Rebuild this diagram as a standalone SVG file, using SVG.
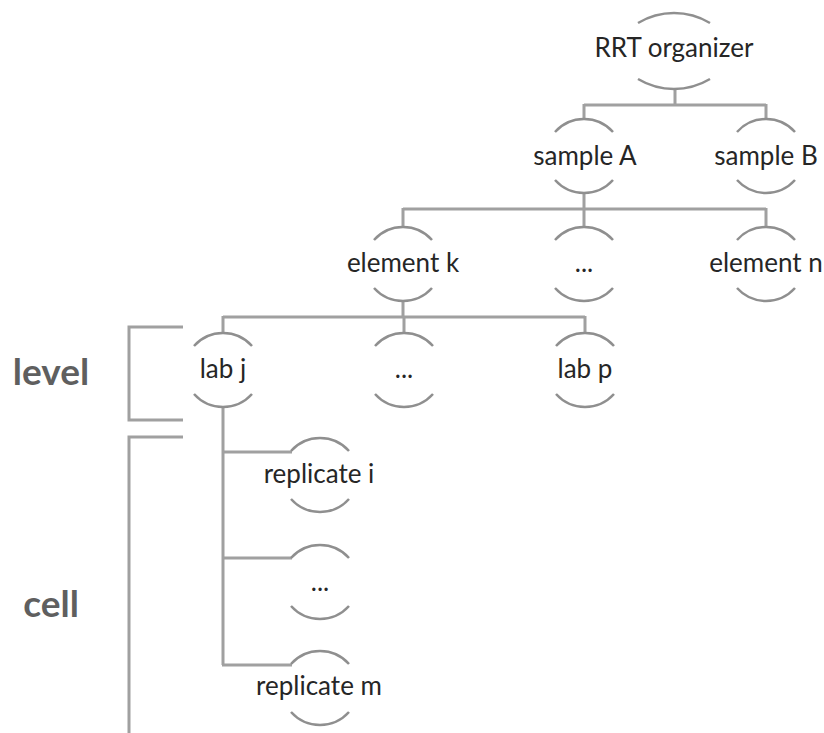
<svg xmlns="http://www.w3.org/2000/svg" width="824" height="733" viewBox="0 0 824 733">
  <style>
    .bg { fill: #ffffff; }
    .link { fill: none; stroke: #a0a0a0; stroke-width: 3; }
    .arc { fill: none; stroke: #8f8f8f; stroke-width: 2.5; }
    .label { font-family: Lato, "Open Sans", "Liberation Sans", sans-serif; font-size: 26px; fill: #262626; text-anchor: middle; }
    .side { font-family: Lato, "Open Sans", "Liberation Sans", sans-serif; font-size: 37px; font-weight: bold; fill: #5f5f5f; text-anchor: middle; }
  </style>
  <defs>
    <!-- node outline: a top arc and a bottom arc around the label -->
    <path id="shell" class="arc" d="M-29,-24 A39,39 0 0 1 29,-24 M-29,24 A39,39 0 0 0 29,24"/>
    <path id="shellWide" class="arc" d="M-36,-28 A70,70 0 0 1 36,-28 M-36,28 A70,70 0 0 0 36,28"/>
  </defs>
  <rect class="bg" x="0" y="0" width="824" height="733"/>

  <g id="connectors">
    <path class="link" d="M675,89 V105 M584,105 H766 M584,104 V120 M766,104 V120"/>
    <path class="link" d="M584,193 V209 M403,209 H766 M403,208 V228 M584,208 V228 M766,208 V228"/>
    <path class="link" d="M403,300 V317 M223,317 H585 M223,316 V334 M404,316 V334 M585,316 V334"/>
    <path class="link" d="M223,408 V665 M222,452 H292 M222,558 H292 M222,665 H292"/>
    <path class="link" d="M183,327 H129 V420 H183"/>
    <path class="link" d="M183,437 H129 V733"/>
  </g>

  <g id="rrt-organizer">
    <use href="#shellWide" x="674" y="51"/>
    <text class="label" x="674" y="57">RRT organizer</text>
  </g>
  <g id="sample-a">
    <use href="#shell" x="584" y="156"/>
    <text class="label" x="585" y="165">sample A</text>
  </g>
  <g id="sample-b">
    <use href="#shell" x="766" y="156"/>
    <text class="label" x="766" y="165">sample B</text>
  </g>
  <g id="element-k">
    <use href="#shell" x="403" y="264"/>
    <text class="label" x="403" y="272">element k</text>
  </g>
  <g id="element-more">
    <use href="#shell" x="584" y="264"/>
    <text class="label" x="584" y="272">...</text>
  </g>
  <g id="element-n">
    <use href="#shell" x="766" y="264"/>
    <text class="label" x="766" y="272">element n</text>
  </g>
  <g id="lab-j">
    <use href="#shell" x="223" y="370"/>
    <text class="label" x="223" y="378">lab j</text>
  </g>
  <g id="lab-more">
    <use href="#shell" x="404" y="370"/>
    <text class="label" x="404" y="378">...</text>
  </g>
  <g id="lab-p">
    <use href="#shell" x="585" y="370"/>
    <text class="label" x="585" y="378">lab p</text>
  </g>
  <g id="replicate-i">
    <use href="#shell" x="320" y="475"/>
    <text class="label" x="319" y="483">replicate i</text>
  </g>
  <g id="replicate-more">
    <use href="#shell" x="320" y="582"/>
    <text class="label" x="320" y="591">...</text>
  </g>
  <g id="replicate-m">
    <use href="#shell" x="320" y="688"/>
    <text class="label" x="319" y="695">replicate m</text>
  </g>

  <g id="side-labels">
    <text class="side" x="51" y="385">level</text>
    <text class="side" x="51" y="617">cell</text>
  </g>
</svg>
